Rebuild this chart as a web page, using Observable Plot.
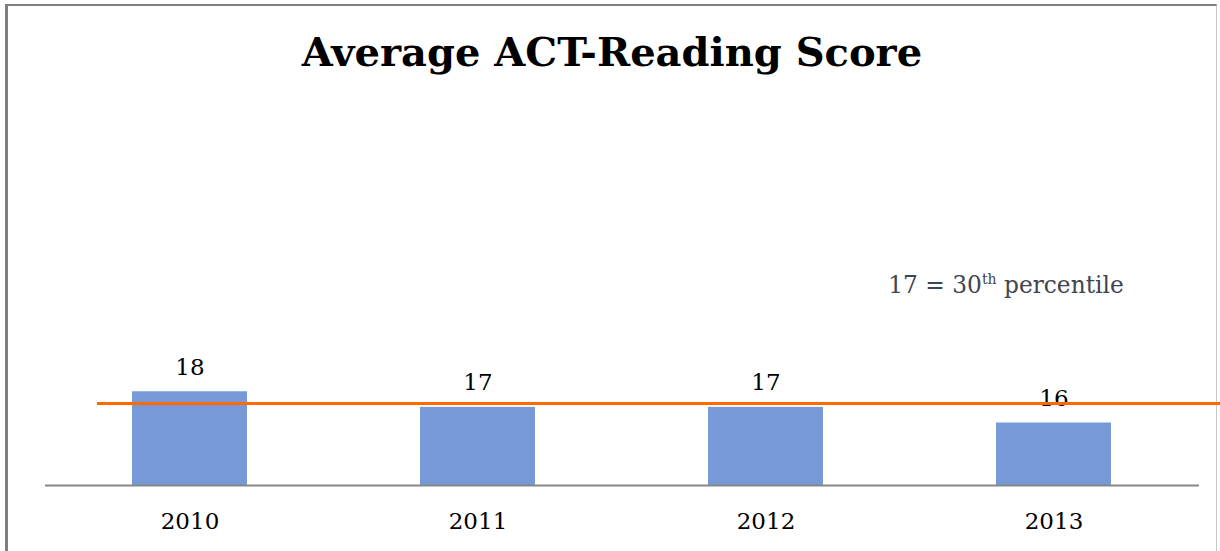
<!DOCTYPE html>
<html><head><meta charset="utf-8">
<script src="https://cdn.jsdelivr.net/npm/d3@7"></script>
<script src="https://cdn.jsdelivr.net/npm/@observablehq/plot@0.6"></script>
<style>
body{margin:0;background:#fff;overflow:hidden;}
#frame{position:absolute;left:5px;top:4px;width:1212px;height:600px;box-sizing:border-box;border-left:3px solid #7f7f7f;border-top:2px solid #7f7f7f;border-right:1px solid #c8c8c8;}
#chart{position:absolute;left:0;top:0;width:1220px;}
#title{height:110px;box-sizing:border-box;padding-top:32px;padding-left:4px;text-align:center;font-family:"DejaVu Serif",serif;font-weight:bold;font-size:40px;line-height:1;color:#000;white-space:nowrap;}
</style></head>
<body>
<div id="frame"></div>
<div id="chart"><div id="title">Average ACT-Reading Score</div></div>
<script>
const years = ["2010", "2011", "2012", "2013"];
const scores = [18, 17, 17, 16];
const benchmarkValue = 17.25;
const benchmarkLabel = ["17 = 30", "th", " percentile"];
const annotationPos = {year: "2013", score: 24.3};
const yDomain = [12, 36];

const data = years.map((year, i) => ({year, score: scores[i]}));

const plot = Plot.plot({
  width: 1220,
  height: 441,
  marginTop: 0,
  marginBottom: 66,
  marginLeft: 45,
  marginRight: 21,
  style: {fontFamily: "DejaVu Serif", fontSize: "23px", color: "#000", background: "transparent", overflow: "visible"},
  x: {domain: years, paddingInner: 0.6, paddingOuter: 0.3, label: null},
  y: {domain: yDomain, clamp: true, axis: null},
  marks: [
    Plot.barY(data, {x: "year", y: "score", fill: "#7799d7"}),
    Plot.ruleY([yDomain[0]], {stroke: "#878787", strokeWidth: 2}),
    Plot.axisX({tickSize: 0, tickPadding: 27, fontSize: 23, fill: "#000", label: null}),
    Plot.text(data, {x: "year", y: "score", text: d => String(d.score), dy: -17, lineAnchor: "bottom", fontSize: 23, fill: "#000"}),
    Plot.text([annotationPos], {x: "year", y: "score", text: () => benchmarkLabel.join(""), dx: -48, lineAnchor: "bottom", fontSize: 23.3, fill: "#404550", className: "annot"}),
    Plot.ruleY([benchmarkValue], {stroke: "#ff6a00", strokeWidth: 3, insetLeft: 52, insetRight: -21})
  ]
});
document.getElementById("chart").appendChild(plot);

// superscript "th"
d3.select(plot).selectAll("g.annot text").each(function() {
  const t = d3.select(this);
  t.text(null);
  t.append("tspan").text(benchmarkLabel[0]);
  t.append("tspan").attr("dy", "-9").attr("font-size", "14").text(benchmarkLabel[1]);
  t.append("tspan").attr("dy", "9").text(benchmarkLabel[2]);
});
</script>
</body></html>
